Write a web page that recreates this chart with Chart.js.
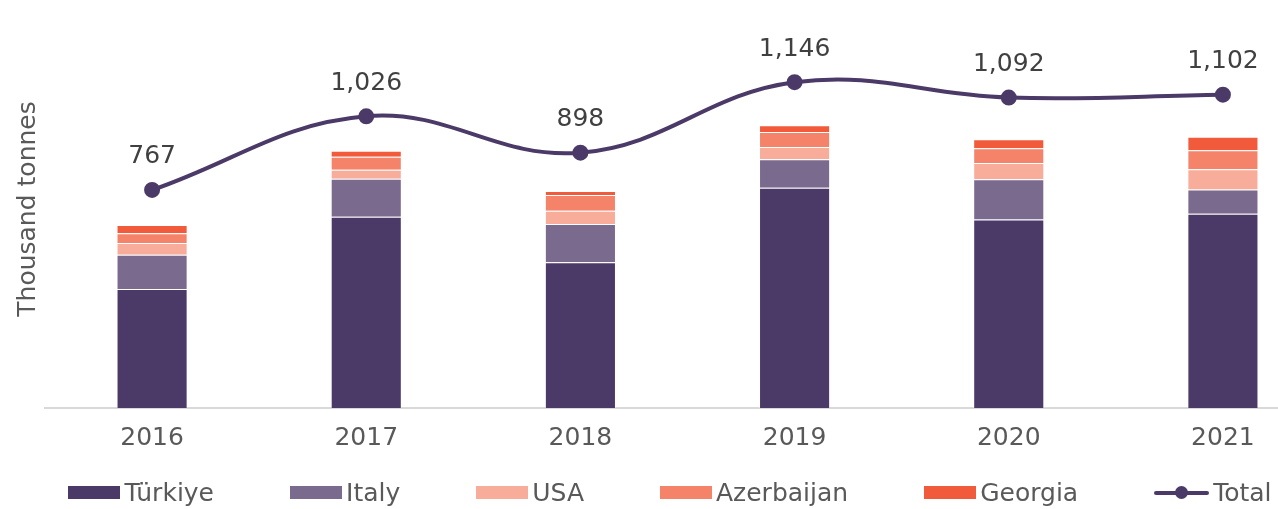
<!DOCTYPE html>
<html>
<head>
<meta charset="utf-8">
<script src="https://cdn.jsdelivr.net/npm/chart.js@4/dist/chart.umd.min.js"></script>
<style>
  html, body { margin: 0; padding: 0; background: #fff; overflow: hidden; }
  #wrap { position: relative; width: 1340px; height: 509px; }
  #legend {
    position: absolute; left: 0; top: 477px; width: 1340px; height: 30px;
    display: flex; justify-content: center; align-items: center; gap: 76px;
    font-family: "DejaVu Sans", sans-serif; font-size: 25px; color: #595959;
  }
  .item { display: flex; align-items: center; gap: 4px; white-space: nowrap; }
  .box { width: 52px; height: 13px; }
  .ln { position: relative; width: 55px; height: 13px; }
  .ln .bar { position: absolute; left: 0; right: 0; top: 5px; height: 4px; border-radius: 2px; }
  .ln .dot { position: absolute; left: 21px; top: 0; width: 13px; height: 13px; border-radius: 50%; }
</style>
</head>
<body>
<div id="wrap">
  <canvas id="chart" width="1340" height="509"></canvas>
  <div id="legend"></div>
</div>
<script>
// Data (thousand tonnes)
const years = ['2016', '2017', '2018', '2019', '2020', '2021'];
const turkiye = [419, 673, 513, 775, 663, 683];
const italy = [120, 133, 134, 100, 142, 86];
const usa = [41, 32, 47, 43, 57, 71];
const azerbaijan = [35, 46, 55, 53, 52, 67];
const georgia = [29, 21, 14, 24, 31, 47];
const total = [767, 1026, 898, 1146, 1092, 1102];

const font = "'DejaVu Sans', sans-serif";
const purple = '#4B3A68';

const bar = (label, data, color) => ({
    type: 'bar',
    label: label,
    data: data,
    backgroundColor: color,
    borderColor: 'rgba(255,255,255,0.35)',
    borderWidth: 1,
    barPercentage: 0.332,
    categoryPercentage: 1,
    yAxisID: 'y',
    order: 2
});

// Labels above the total line points
const totalLabels = {
    id: 'totalLabels',
    afterDatasetsDraw(chart) {
        const ctx = chart.ctx;
        const meta = chart.getDatasetMeta(5);
        ctx.save();
        ctx.font = '25px ' + font;
        ctx.fillStyle = '#404040';
        ctx.textAlign = 'center';
        ctx.textBaseline = 'middle';
        meta.data.forEach((pt, i) => {
            ctx.fillText(total[i].toLocaleString('en-US'), pt.x, pt.y - 33);
        });
        ctx.restore();
    }
};

const chart = new Chart(document.getElementById('chart'), {
    data: {
        labels: years,
        datasets: [
            bar('Türkiye', turkiye, '#4B3A68'),
            bar('Italy', italy, '#7A6A8E'),
            bar('USA', usa, '#F8AC9A'),
            bar('Azerbaijan', azerbaijan, '#F4836A'),
            bar('Georgia', georgia, '#F15A3A'),
            {
                type: 'line',
                label: 'Total',
                data: total,
                borderColor: purple,
                backgroundColor: purple,
                borderWidth: 4,
                pointRadius: 6,
                pointHoverRadius: 6,
                tension: 0.4,
                yAxisID: 'y1',
                order: 1
            }
        ]
    },
    options: {
        responsive: false,
        animation: false,
        layout: { padding: { top: 8, left: 9, right: 7, bottom: 41 } },
        plugins: {
            legend: { display: false },
            tooltip: { enabled: false }
        },
        scales: {
            x: {
                stacked: true,
                grid: { display: false, drawTicks: false },
                border: { display: true, color: '#D9D9D9', width: 2 },
                ticks: { color: '#595959', font: { family: font, size: 25 }, padding: 15 }
            },
            y: {
                stacked: true,
                min: 0,
                max: 1400,
                grid: { display: false, drawTicks: false },
                border: { display: false },
                ticks: { display: false },
                title: {
                    display: true,
                    text: 'Thousand tonnes',
                    color: '#595959',
                    font: { family: font, size: 25 },
                    padding: { top: 4, bottom: 2 }
                }
            },
            y1: {
                display: false,
                min: 0,
                max: 1400
            }
        }
    },
    plugins: [totalLabels]
});

// Legend built from the datasets
const legend = document.getElementById('legend');
chart.data.datasets.forEach(ds => {
    const item = document.createElement('div');
    item.className = 'item';
    let mark;
    if (ds.type === 'line') {
        mark = document.createElement('div');
        mark.className = 'ln';
        mark.innerHTML = '<div class="bar"></div><div class="dot"></div>';
        mark.querySelector('.bar').style.background = ds.borderColor;
        mark.querySelector('.dot').style.background = ds.borderColor;
    } else {
        mark = document.createElement('div');
        mark.className = 'box';
        mark.style.background = ds.backgroundColor;
    }
    const txt = document.createElement('span');
    txt.textContent = ds.label;
    item.appendChild(mark);
    item.appendChild(txt);
    legend.appendChild(item);
});
</script>
</body>
</html>
